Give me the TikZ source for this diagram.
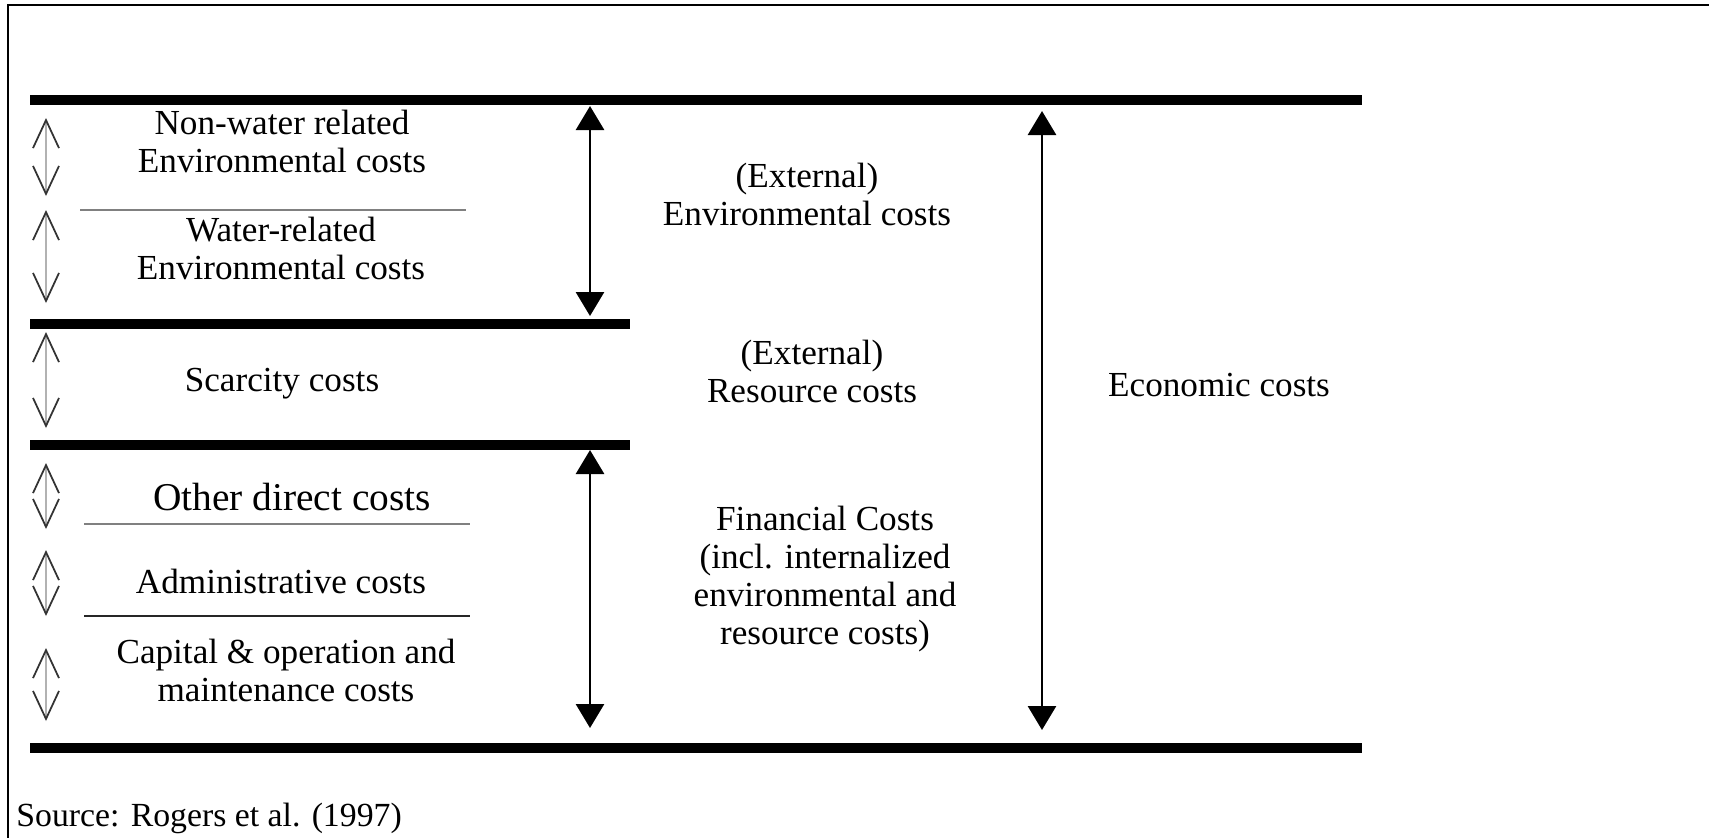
\documentclass[tikz,border=0pt]{standalone}
\usepackage{fontspec}
\setmainfont{Liberation Serif}
\usetikzlibrary{arrows.meta}

\begin{document}
\begin{tikzpicture}[x=0.01cm,y=-0.01cm]
  \tikzstyle{Bar}=[line width=2.8pt]
  \tikzstyle{Sep}=[draw=gray,line width=0.6pt]
  \tikzstyle{Span}=[line width=0.8pt,{Triangle[length=2.4mm,width=2.8mm]}-{Triangle[length=2.4mm,width=2.8mm]}]
  \tikzstyle{Part}=[draw=gray!60,line width=0.8pt,{Straight Barb[color=black!80,length=2.8mm,width=2.6mm,line width=0.5pt]}-{Straight Barb[color=black!80,length=2.8mm,width=2.6mm,line width=0.5pt]}]
  \tikzstyle{Txt}=[align=center,font=\fontsize{10}{10.8}\selectfont]
  \useasboundingbox (0,0) rectangle (1709,838);
  % frame
  \draw[line width=0.6pt] (1709,5) -- (8,5) -- (8,838);
  % bars
  \draw[Bar] (30,100) -- (1362,100);
  \draw[Bar] (30,324) -- (630,324);
  \draw[Bar] (30,445) -- (630,445);
  \draw[Bar] (30,748) -- (1362,748);
  \draw[Sep] (80,210) -- (466,210);
  \draw[Sep] (84,524) -- (470,524);
  \draw[Sep,draw=black!85] (84,616) -- (470,616);
  % left arrows
  \coordinate (A1) at (46,118);  \coordinate (B1) at (46,196);
  \coordinate (A2) at (46,210);  \coordinate (B2) at (46,303);
  \coordinate (A3) at (46,332);  \coordinate (B3) at (46,428);
  \coordinate (A4) at (46,463);  \coordinate (B4) at (46,529);
  \coordinate (A5) at (46,550);  \coordinate (B5) at (46,616);
  \coordinate (A6) at (46,648);  \coordinate (B6) at (46,721);
  \foreach \i in {1,...,6}
    \draw[Part] (A\i) -- (B\i);
  % spans
  \coordinate (E1) at (590,106);  \coordinate (E2) at (590,316);
  \coordinate (F1) at (590,450);  \coordinate (F2) at (590,728);
  \coordinate (K1) at (1042,111); \coordinate (K2) at (1042,730);
  \draw[Span] (E1) -- (E2);
  \draw[Span] (F1) -- (F2);
  \draw[Span] (K1) -- (K2);
  % labels
  \node[Txt] (NW) at (282,141) {Non-water related\\Environmental costs};
  \node[Txt] (WR) at (281,248) {Water-related\\Environmental costs};
  \node[Txt] (SC) at (282,384) {Scarcity costs};
  \node[Txt,font=\fontsize{11.2}{12}\selectfont] (OD) at (292,497) {Other direct costs};
  \node[Txt] (AD) at (281,581) {Administrative costs};
  \node[Txt] (CO) at (286,670) {Capital \& operation and\\maintenance costs};
  \node[Txt] (EE) at (807,194) {(External)\\Environmental costs};
  \node[Txt] (ER) at (812,371) {(External)\\Resource costs};
  \node[Txt] (FC) at (825,579) {Financial Costs\\(incl. internalized\\environmental and\\resource costs)};
  \node[Txt] (EC) at (1219,385) {Economic costs};
  \node[Txt,anchor=west,font=\fontsize{9.6}{10.8}\selectfont] (SRC) at (4,818) {Source: Rogers et al. (1997)};
%  \node[Txt] at (0,0) {};
\end{tikzpicture}
\end{document}
